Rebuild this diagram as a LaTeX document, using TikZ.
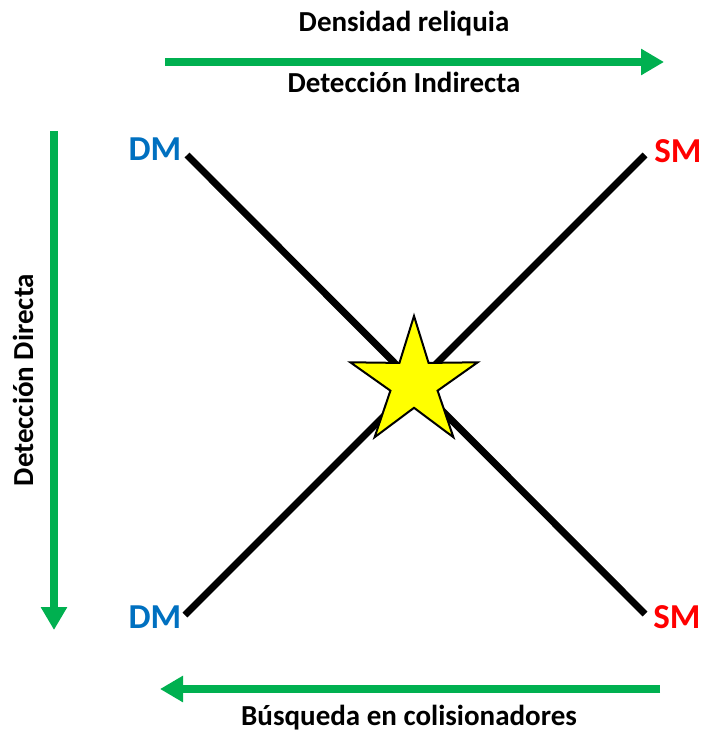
\documentclass[tikz,border=0pt]{standalone}
\usepackage{fontspec}
\setmainfont{Carlito}
\usetikzlibrary{arrows.meta,shapes.geometric}
\definecolor{offgreen}{HTML}{00B050}
\definecolor{offblue}{HTML}{0070C0}
\definecolor{offred}{HTML}{FF0000}
\definecolor{offyellow}{HTML}{FFFF00}
\tikzset{
  axisarrow/.style={draw=offgreen, line width=8pt, -{Triangle[length=23pt,width=25pt]}},
  axislabel/.style={font=\bfseries\fontsize{29}{29}\selectfont, anchor=base, inner sep=0pt},
  cornerlabel/.style={font=\bfseries\fontsize{35}{35}\selectfont, anchor=base, inner sep=0pt},
  xline/.style={draw=black, line width=7pt},
  bigstar/.style={star, star points=5, star point ratio=2.7, minimum size=134pt, inner sep=0pt, fill=offyellow, draw=black, line width=2pt}
}
\begin{document}
\begin{tikzpicture}[x=1pt,y=-1pt]
\useasboundingbox (0,0) rectangle (706,733);
% axis arrows
\coordinate (ts) at (165,62);
\coordinate (te) at (664,62);
\coordinate (ls) at (54,131);
\coordinate (le) at (54,630);
\coordinate (bs) at (660,689);
\coordinate (be) at (160,689);
\draw[axisarrow] (ts) -- (te);
\draw[axisarrow] (ls) -- (le);
\draw[axisarrow] (bs) -- (be);
% axis labels
\node[axislabel] (dens) at (404,32) {Densidad reliquia};
\node[axislabel] (indir) at (404,93) {Detección Indirecta};
\node[axislabel, rotate=90] (dir) at (33,380) {Detección Directa};
\node[axislabel] (busq) at (409,725) {Búsqueda en colisionadores};
% corner labels
\node[cornerlabel, text=offblue] (dmtl) at (155,160) {DM};
\node[cornerlabel, text=offblue] (dmbl) at (155,628) {DM};
\node[cornerlabel, text=offred] (smtr) at (678,162) {SM};
\node[cornerlabel, text=offred] (smbr) at (677,628) {SM};
% cross lines
\coordinate (c1) at (187,155);
\coordinate (c2) at (645,614);
\coordinate (c3) at (185,615);
\coordinate (c4) at (645,155);
\draw[xline] (c1) -- (c2);
\draw[xline] (c3) -- (c4);
% star
\node[bigstar] (st) at (414,383) {};
\end{tikzpicture}
\end{document}
